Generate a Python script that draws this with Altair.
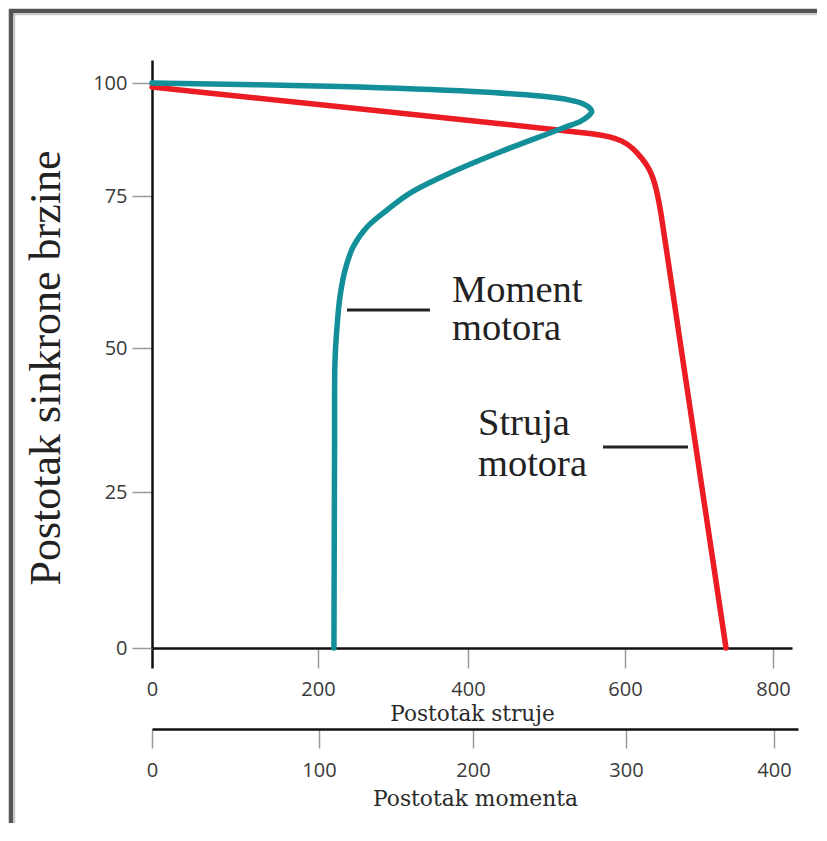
import altair as alt
import pandas as pd

# ---------------- data ----------------
# Struja motora (percent current) vs percent synchronous speed
struja_current = [0, 517.2, 561.8, 580.9, 596.2, 610.8, 623.0, 632.4, 638.5, 642.6, 645.3, 648.6,
                  652.7, 675.7, 704.9, 736.5]
struja_speed = [99.1, 89.6, 88.76, 88.10, 87.28, 85.62, 83.30, 81.19, 78.76, 76.33, 74.34, 72.20,
                68.91, 50.0, 25.0, 0.0]

# Moment motora (percent torque) vs percent synchronous speed
moment_torque = [0, 113.6, 200, 243.8, 263.4, 272.2, 276.5, 277.6, 275.4, 269.9, 261.2, 250.3,
                 217.6, 185.1, 159.1, 144.2, 131.2, 122.1, 116.9, 113.6, 111.7, 110.4, 110.1, 109.7]
moment_speed = [100.0, 99.2, 98.1, 97.1, 96.2, 95.35, 94.4, 93.65, 92.7, 91.45, 90.35, 88.95,
                84.75, 80.1, 75.65, 72.7, 69.9, 66.6, 62.8, 58.4, 53.45, 47.9, 32.3, 0.0]

speed_ticks = [0, 25, 50, 75, 100]
current_ticks = [0, 200, 400, 600, 800]
torque_ticks = [0, 100, 200, 300, 400]

labels_text = ["Moment\nmotora", "Struja\nmotora"]

# ---------------- tables ----------------
df_cur = pd.DataFrame({"i": range(len(struja_current)), "cur": struja_current, "speed": struja_speed})
df_mom = pd.DataFrame({"i": range(len(moment_torque)), "mom": moment_torque, "speed": moment_speed})
df_lab1 = pd.DataFrame({"cur": [378.7], "speed": [57.5], "t": [labels_text[0]]})
df_lab2 = pd.DataFrame({"cur": [412.7], "speed": [34.9], "t": [labels_text[1]]})
df_lead = pd.DataFrame({"cur": [238.7, 572.0], "cur2": [349.3, 685.1], "speed": [56.25, 32.8]})
one = pd.DataFrame({"a": [0]})

W, H = 640, 588

# piecewise scales, matching the drawn tick spacing of the original
y_scale = alt.Scale(domain=[0, 25, 50, 75, 100, 105.1], range=[588, 432, 288, 136, 23, 0],
                    zero=False, nice=False)
x_cur_scale = alt.Scale(domain=[0, 200, 400, 600, 800, 825.7], range=[0, 166, 316, 473, 621, 640],
                        zero=False, nice=False)
x_mom_scale = alt.Scale(domain=[0, 100, 200, 300, 400, 416.2], range=[0, 167, 321, 474, 622, 646],
                        zero=False, nice=False)

label_style = dict(labelFont="Open Sans", labelFontSize=20, labelColor="#3a3a3a",
                   labelFlush=False, labelOverlap=False, grid=False)

y_axis = alt.Axis(values=speed_ticks, title="Postotak sinkrone brzine",
                  domainColor="#111111", domainWidth=2.5, tickColor="#9a9a9a", tickWidth=1.5,
                  tickSize=20, labelPadding=5,
                  titleFont="Liberation Serif", titleFontSize=44, titleFontWeight="normal",
                  titleColor="#222222", titleX=-93, titleY=307.5, titleBaseline="alphabetic",
                  titleAlign="center", **label_style)

cur_axis = alt.Axis(values=current_ticks, title="Postotak struje", orient="bottom",
                    domainColor="#111111", domainWidth=2.5,
                    tickColor={"condition": {"test": "datum.value === 0", "value": "#111111"}, "value": "#9a9a9a"},
                    tickWidth={"condition": {"test": "datum.value === 0", "value": 2.5}, "value": 1.5},
                    tickSize=20, labelPadding=11,
                    titleFont="DejaVu Serif", titleFontSize=21.6, titleFontWeight="normal",
                    titleColor="#2a2a2a", titleX=320, titleY=72, titleBaseline="alphabetic",
                    titleAlign="center", **label_style)

mom_axis = alt.Axis(values=torque_ticks, title="Postotak momenta", orient="bottom", offset=81,
                    domainColor="#111111", domainWidth=2.5, tickColor="#9a9a9a", tickWidth=1.5,
                    tickSize=19, labelPadding=12,
                    titleFont="DejaVu Serif", titleFontSize=21.8, titleFontWeight="normal",
                    titleColor="#2a2a2a", titleX=323, titleY=76, titleBaseline="alphabetic",
                    titleAlign="center", **label_style)

Y = alt.Y("speed:Q", scale=y_scale, axis=y_axis)
Xc = alt.X("cur:Q", scale=x_cur_scale, axis=cur_axis)

red = alt.Chart(df_cur).mark_line(color="#ec1c24", strokeWidth=5.5, interpolate="basis",
                                  strokeCap="round").encode(
    x=Xc, y=Y, order=alt.Order("i:Q"))

lab1 = alt.Chart(df_lab1).mark_text(font="Liberation Serif", fontSize=38.5, align="left",
                                    baseline="alphabetic", lineBreak="\n", lineHeight=38,
                                    color="#222222").encode(x=Xc, y=Y, text="t:N")
lab2 = alt.Chart(df_lab2).mark_text(font="Liberation Serif", fontSize=38.5, align="left",
                                    baseline="alphabetic", lineBreak="\n", lineHeight=41,
                                    color="#222222").encode(x=Xc, y=Y, text="t:N")
lead = alt.Chart(df_lead).mark_rule(color="#222222", strokeWidth=3).encode(
    x=Xc, x2="cur2:Q", y=Y)

frame_top = alt.Chart(one).mark_rule(color="#555555", strokeWidth=4.5).encode(
    x=alt.value(-143), x2=alt.value(690), y=alt.value(-49))
frame_left = alt.Chart(one).mark_rule(color="#555555", strokeWidth=4.5).encode(
    x=alt.value(-141), y=alt.value(-51), y2=alt.value(800))
frame_top2 = alt.Chart(one).mark_rule(color="#c8c8c8", strokeWidth=1.5).encode(
    x=alt.value(-139), x2=alt.value(690), y=alt.value(-45.5))
frame_left2 = alt.Chart(one).mark_rule(color="#c8c8c8", strokeWidth=1.5).encode(
    x=alt.value(-137.5), y=alt.value(-45.5), y2=alt.value(800))

inner = alt.layer(red, lead, lab1, lab2, frame_top2, frame_left2, frame_top, frame_left)

teal = alt.Chart(df_mom).mark_line(color="#138f99", strokeWidth=5.5, interpolate="catmull-rom",
                                   strokeCap="round").encode(
    x=alt.X("mom:Q", scale=x_mom_scale, axis=mom_axis), y=Y, order=alt.Order("i:Q"))

chart = alt.layer(inner, teal).resolve_scale(x="independent").properties(
    width=W, height=H,
    autosize=alt.AutoSizeParams(type="none"),
    padding={"left": 144, "top": 52, "right": 25, "bottom": 175},
    background="white",
).configure_view(stroke=None)

chart.save("out.html", embed_options={"renderer": "svg", "actions": False})
